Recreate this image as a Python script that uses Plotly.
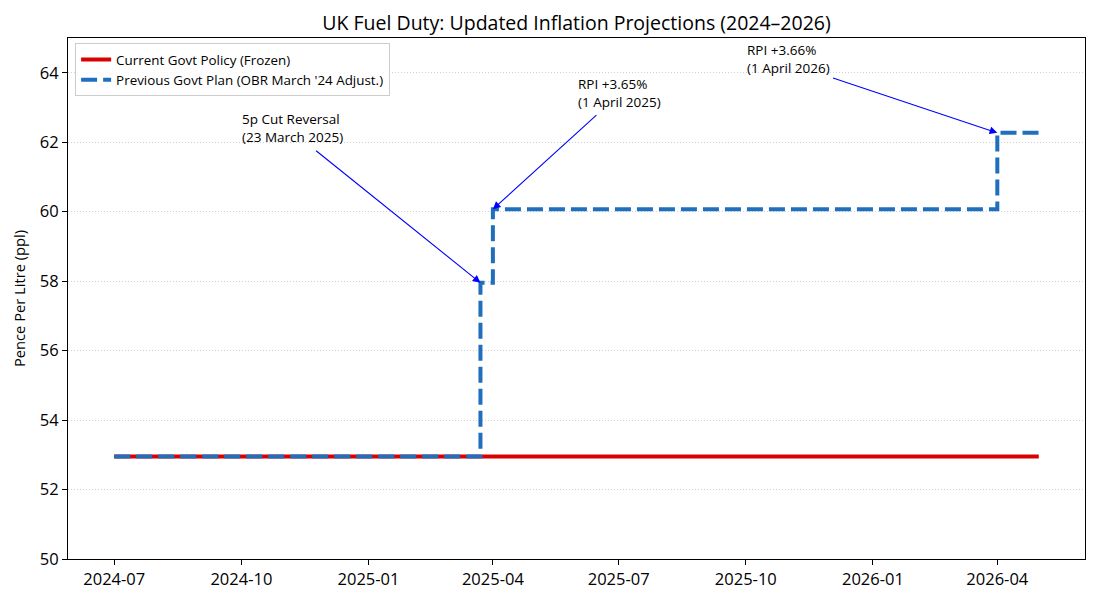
import pandas as pd
import plotly.graph_objects as go

# ---- data ----
current_dates = ["2024-07-01", "2026-05-01"]
current_values = [52.95, 52.95]

plan_dates = ["2024-07-01", "2025-03-23", "2025-04-01", "2026-04-01", "2026-05-01"]
plan_values = [52.95, 57.95, 60.07, 62.27, 62.27]

ann_texts = ["5p Cut Reversal<br>(23 March 2025)", "RPI +3.65%<br>(1 April 2025)", "RPI +3.66%<br>(1 April 2026)"]
ann_targets_x = ["2025-03-23", "2025-04-01", "2026-04-01"]
ann_targets_y = [57.95, 60.07, 62.27]
ann_text_x = ["2024-10-01", "2025-06-01", "2025-10-01"]
ann_text_y = [62.0, 63.0, 64.0]
ann_tail_x = ["2024-11-23", "2025-06-16", "2025-12-02"]
ann_tail_y = [61.79, 62.82, 63.86]

y_ticks = [50, 52, 54, 56, 58, 60, 62, 64]

FONT = "Open Sans"

fig = go.Figure()
fig.add_trace(go.Scatter(
    x=current_dates, y=current_values, mode="lines",
    name="Current Govt Policy (Frozen)",
    line=dict(color="#d90000", width=4),
))
fig.add_trace(go.Scatter(
    x=plan_dates, y=plan_values, mode="lines", line_shape="hv",
    name="Previous Govt Plan (OBR March '24 Adjust.)",
    line=dict(color="#1f6fbd", width=4, dash="16px,6px"),
))

# x range with 5% margins
dmin = pd.Timestamp(min(current_dates + plan_dates))
dmax = pd.Timestamp(max(current_dates + plan_dates))
pad = (dmax - dmin) * 0.05
xr = [dmin - pad, dmax + pad]

annotations = []
for t, tx, ty, hx, hy, ax_, ay_ in zip(ann_texts, ann_text_x, ann_text_y,
                                      ann_targets_x, ann_targets_y, ann_tail_x, ann_tail_y):
    annotations.append(dict(
        x=tx, y=ty, xref="x", yref="y", text=t, showarrow=False,
        xanchor="left", yanchor="bottom", align="left", yshift=-6, xshift=-1,
        font=dict(family=FONT, size=13.5, color="black"),
    ))
    annotations.append(dict(
        x=hx, y=hy, ax=ax_, ay=ay_, xref="x", yref="y", axref="x", ayref="y",
        text="", showarrow=True, arrowhead=2, arrowsize=1.4, arrowwidth=1.1,
        arrowcolor="blue", standoff=0, startstandoff=0,
    ))

fig.update_layout(
    width=1100, height=600,
    margin=dict(l=60, r=23, t=30, b=49),
    paper_bgcolor="white", plot_bgcolor="white",
    font=dict(family=FONT, size=14, color="black"),
    title=dict(text="UK Fuel Duty: Updated Inflation Projections (2024–2026)",
               x=0.5, xref="paper", y=0.975, yanchor="middle",
               font=dict(family=FONT, size=19.5, color="black")),
    legend=dict(x=0.007, y=0.99, xanchor="left", yanchor="top",
                bgcolor="rgba(255,255,255,0.85)", bordercolor="#cccccc", borderwidth=1,
                font=dict(family=FONT, size=13.4), tracegroupgap=0),
    annotations=annotations,
    showlegend=True,
)
fig.update_xaxes(
    range=xr, type="date", tick0="2024-07-01", dtick="M3", tickformat="%Y-%m",
    showgrid=False, showline=True, linecolor="black", linewidth=1, mirror=True,
    ticks="outside", ticklen=5, tickcolor="black", zeroline=False,
    tickfont=dict(family=FONT, size=16.5),
)
fig.update_yaxes(
    range=[50, 65], tickvals=y_ticks,
    title=dict(text="Pence Per Litre (ppl)", font=dict(family=FONT, size=14.7), standoff=10),
    showgrid=True, gridcolor="#d0d0d0", griddash="1px,2px", gridwidth=1,
    showline=True, linecolor="black", linewidth=1, mirror=True,
    ticks="outside", ticklen=5, tickcolor="black", zeroline=False,
    tickfont=dict(family=FONT, size=16.5),
)

fig.write_html("out.html")
